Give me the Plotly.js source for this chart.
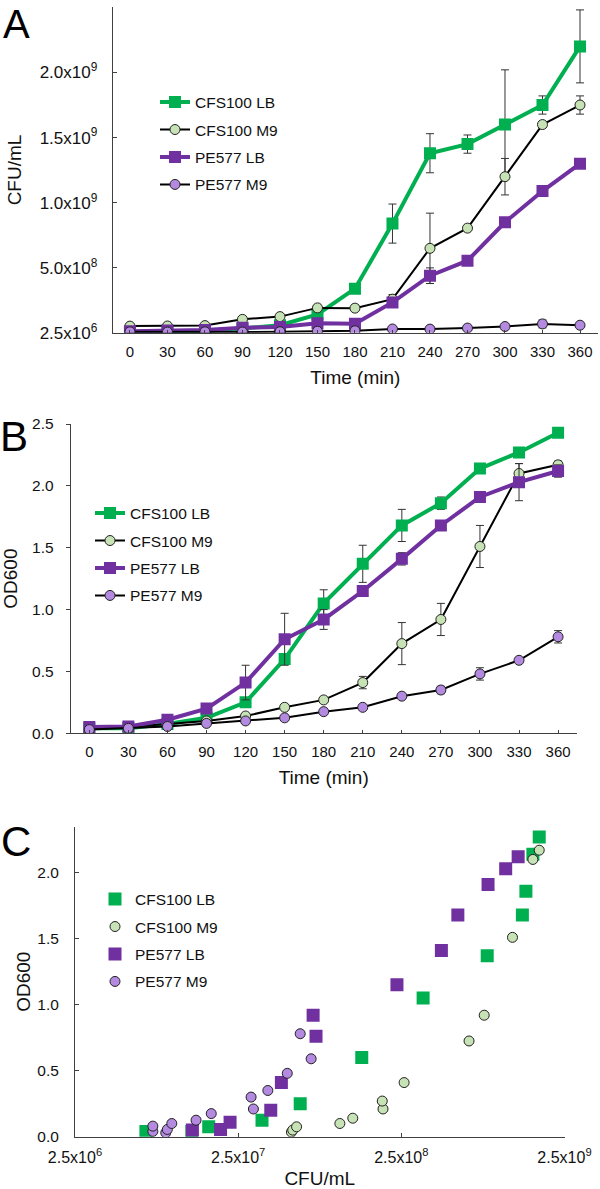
<!DOCTYPE html>
<html>
<head>
<meta charset="utf-8">
<script src="https://cdn.plot.ly/plotly-3.0.1.min.js"></script>
<style>
html,body{margin:0;padding:0;background:#fff;}
#chart{width:600px;height:1189px;}
</style>
</head>
<body>
<div id="chart"></div>
<script>
// ---- data ----
const times = [0, 30, 60, 90, 120, 150, 180, 210, 240, 270, 300, 330, 360];
const seriesNames = ["CFS100 LB", "CFS100 M9", "PE577 LB", "PE577 M9"];

// CFU/mL (panel A; x of panel C)
const cfuCfsLB = [6.8e6, 1.3e7, 1.65e7, 3.5e7, 6.0e7, 1.43e8, 3.4e8, 8.4e8, 1.38e9, 1.45e9, 1.60e9, 1.75e9, 2.20e9];
const cfuCfsM9 = [5.3e7, 5.4e7, 5.7e7, 1.05e8, 1.26e8, 1.93e8, 1.91e8, 2.6e8, 6.5e8, 8.05e8, 1.20e9, 1.60e9, 1.75e9];
const cfuPeLB  = [1.31e7, 1.95e7, 2.23e7, 3.96e7, 4.6e7, 7.5e7, 7.2e7, 2.35e8, 4.4e8, 5.55e8, 8.5e8, 1.09e9, 1.30e9];
const cfuPeM9  = [9.0e6, 7.5e6, 9.2e6, 7.5e6, 9.8e6, 1.38e7, 1.71e7, 3.1e7, 3.0e7, 3.8e7, 5.0e7, 7.0e7, 6.0e7];
const cfuErrCfsLB = [0, 0, 0, 0, 0, 0, 0, 1.5e8, 1.5e8, 7e7, 4.2e8, 7e7, 2.8e8];
const cfuErrCfsM9 = [0, 0, 0, 0, 0, 0, 2.5e7, 3.5e7, 2.7e8, 0, 1.4e8, 0, 7e7];
const cfuErrPeLB  = [0, 0, 0, 0, 0, 0, 0, 0, 6e7, 0, 0, 0, 0];
const cfuErrPeM9  = [0, 0, 0, 0, 0, 0, 0, 0, 0, 0, 2e7, 3e7, 0];

// OD600 (panel B; y of panel C)
const odCfsLB = [0.04, 0.04, 0.075, 0.125, 0.25, 0.60, 1.05, 1.37, 1.68, 1.86, 2.14, 2.27, 2.43];
const odCfsM9 = [0.035, 0.05, 0.075, 0.10, 0.14, 0.21, 0.27, 0.41, 0.725, 0.92, 1.51, 2.10, 2.17];
const odPeLB  = [0.05, 0.055, 0.11, 0.20, 0.41, 0.76, 0.92, 1.15, 1.41, 1.68, 1.91, 2.03, 2.12];
const odPeM9  = [0.03, 0.04, 0.055, 0.08, 0.10, 0.125, 0.175, 0.21, 0.30, 0.35, 0.48, 0.59, 0.78];
const odErrCfsLB = [0, 0, 0, 0, 0, 0, 0.11, 0.15, 0.13, 0.05, 0.03, 0, 0];
const odErrCfsM9 = [0, 0, 0, 0, 0, 0, 0, 0.05, 0.17, 0.13, 0.17, 0.08, 0.03];
const odErrPeLB  = [0, 0, 0, 0, 0.14, 0.21, 0.08, 0, 0.05, 0, 0, 0.15, 0.05];
const odErrPeM9  = [0, 0, 0, 0, 0, 0, 0, 0, 0, 0.03, 0.05, 0, 0.05];

// tick labels
const cfuTickVals = [2.5e6, 5e8, 1e9, 1.5e9, 2e9, 2.5e9];
const cfuTickText = ["2.5x10<sup>6</sup>", "5.0x10<sup>8</sup>", "1.0x10<sup>9</sup>", "1.5x10<sup>9</sup>", "2.0x10<sup>9</sup>", "2.5x10<sup>9</sup>"];
const logTickVals = [2.5e6, 2.5e7, 2.5e8, 2.5e9];
const logTickText = ["2.5x10<sup>6</sup>", "2.5x10<sup>7</sup>", "2.5x10<sup>8</sup>", "2.5x10<sup>9</sup>"];
const odTickVals = [0, 0.5, 1.0, 1.5, 2.0, 2.5];
const odTickValsC = [0, 0.5, 1.0, 1.5, 2.0];

// ---- styles ----
const GREEN = "#00b050", PURPLE = "#7030a0", LGREEN = "#c7e2b5", LPURPLE = "#b48ae0";
const FONT = "Liberation Sans, Arial, sans-serif";
const errStyle = (arr) => ({type: "data", array: arr, visible: true, color: "#333", thickness: 1, width: 4});

const cfuSets = [cfuCfsLB, cfuCfsM9, cfuPeLB, cfuPeM9];
const cfuErrs = [cfuErrCfsLB, cfuErrCfsM9, cfuErrPeLB, cfuErrPeM9];
const odSets = [odCfsLB, odCfsM9, odPeLB, odPeM9];
const odErrs = [odErrCfsLB, odErrCfsM9, odErrPeLB, odErrPeM9];

const lineStyles = [
  {line: {color: GREEN, width: 4}, marker: {symbol: "square", size: 12, color: GREEN, line: {width: 0}}},
  {line: {color: "#000", width: 2}, marker: {symbol: "circle", size: 10, color: LGREEN, line: {color: "#222", width: 1}}},
  {line: {color: PURPLE, width: 4}, marker: {symbol: "square", size: 12, color: PURPLE, line: {width: 0}}},
  {line: {color: "#000", width: 2}, marker: {symbol: "circle", size: 10, color: LPURPLE, line: {color: "#222", width: 1}}}
];
const scatterMarkers = [
  {symbol: "square", size: 13, color: GREEN, line: {width: 0}},
  {symbol: "circle", size: 10, color: LGREEN, line: {color: "#222", width: 1}},
  {symbol: "square", size: 13, color: PURPLE, line: {width: 0}},
  {symbol: "circle", size: 10, color: LPURPLE, line: {color: "#222", width: 1}}
];

const traces = [];
for (let i = 0; i < 4; i++) {
  traces.push({type: "scatter", mode: "lines+markers", x: times, y: cfuSets[i], name: seriesNames[i],
    xaxis: "x", yaxis: "y", legend: "legend", legendgroup: "a" + i,
    line: lineStyles[i].line, marker: lineStyles[i].marker, error_y: errStyle(cfuErrs[i])});
}
for (let i = 0; i < 4; i++) {
  traces.push({type: "scatter", mode: "lines+markers", x: times, y: odSets[i], name: seriesNames[i],
    xaxis: "x2", yaxis: "y2", legend: "legend2", legendgroup: "b" + i,
    line: lineStyles[i].line, marker: lineStyles[i].marker, error_y: errStyle(odErrs[i])});
}
for (let i = 0; i < 4; i++) {
  traces.push({type: "scatter", mode: "markers", x: cfuSets[i], y: odSets[i], name: seriesNames[i],
    xaxis: "x3", yaxis: "y3", legend: "legend3", legendgroup: "c" + i, marker: scatterMarkers[i]});
}

const W = 600, H = 1189;
const xd = (a, b) => [a / W, b / W];
const yd = (top, bottom) => [1 - bottom / H, 1 - top / H];

const axisBase = {
  showline: true, linecolor: "#404040", linewidth: 1, showgrid: false, zeroline: false,
  tickcolor: "#404040", tickwidth: 1, tickfont: {family: FONT, size: 15, color: "#111"}, fixedrange: true
};
const titleFont = {family: FONT, size: 19, color: "#111"};
const legendBase = {
  bgcolor: "rgba(0,0,0,0)", borderwidth: 0, font: {family: FONT, size: 15.5, color: "#111"},
  tracegroupgap: 4.3, xanchor: "left", yanchor: "top", xref: "paper", yref: "paper", itemclick: false
};

const layout = {
  width: W, height: H, margin: {l: 0, r: 0, t: 0, b: 0},
  paper_bgcolor: "#fff", plot_bgcolor: "rgba(0,0,0,0)", font: {family: FONT, color: "#111"}, showlegend: true,
  xaxis: Object.assign({}, axisBase, {domain: xd(112.7, 598), range: [-13.8, 374.4], anchor: "y",
    tickvals: times, ticks: "inside", ticklen: 3, ticklabelstandoff: 5,
    title: {text: "Time (min)", font: titleFont, standoff: 11}}),
  yaxis: Object.assign({}, axisBase, {domain: yd(7.3, 332.7), range: [2.5e6, 2.5e9], anchor: "x",
    tickvals: cfuTickVals, ticktext: cfuTickText, ticks: "inside", ticklen: 4, ticklabelstandoff: 11,
    tickfont: {family: FONT, size: 17, color: "#111"},
    title: {text: "CFU/mL", font: titleFont, standoff: 12}}),
  xaxis2: Object.assign({}, axisBase, {domain: xd(70.7, 576.7), range: [-14.3, 374.3], anchor: "y2",
    tickvals: times, ticks: "inside", ticklen: 3, ticklabelstandoff: 5,
    title: {text: "Time (min)", font: titleFont, standoff: 11}}),
  yaxis2: Object.assign({}, axisBase, {domain: yd(424, 733.3), range: [0, 2.5], anchor: "x2",
    tickvals: odTickVals, tickformat: ".1f", ticks: "outside", ticklen: 4, ticklabelstandoff: 9,
    tickfont: {family: FONT, size: 15.5, color: "#111"},
    title: {text: "OD600", font: titleFont, standoff: 13}}),
  xaxis3: Object.assign({}, axisBase, {type: "log", domain: xd(75, 564.5), range: [Math.log10(2.5e6), Math.log10(2.5e9)], anchor: "y3",
    tickvals: logTickVals, ticktext: logTickText, ticks: "inside", ticklen: 4, ticklabelstandoff: 6,
    tickfont: {family: FONT, size: 16, color: "#111"},
    title: {text: "CFU/mL", font: titleFont, standoff: 8}}),
  yaxis3: Object.assign({}, axisBase, {domain: yd(826.7, 1136.7), range: [0, 2.348], anchor: "x3",
    tickvals: odTickValsC, tickformat: ".1f", ticks: "inside", ticklen: 4, ticklabelstandoff: 12,
    tickfont: {family: FONT, size: 15.5, color: "#111"},
    title: {text: "OD600", font: titleFont, standoff: 1}}),
  legend: Object.assign({}, legendBase, {x: 155 / W, y: 1 - 85.5 / H}),
  legend2: Object.assign({}, legendBase, {x: 90 / W, y: 1 - 496.5 / H}),
  legend3: Object.assign({}, legendBase, {x: 95 / W, y: 1 - 882.5 / H}),
  annotations: [
    {text: "A", x: 16 / W, y: 1, yanchor: "top", font: {family: FONT, size: 40, color: "#000"}},
    {text: "B", x: 14 / W, y: 1 - 436 / H},
    {text: "C", x: 16 / W, y: 1 - 842 / H}
  ].map(a => Object.assign({xref: "paper", yref: "paper", showarrow: false, xanchor: "center", yanchor: "middle",
    font: {family: FONT, size: 42, color: "#000"}}, a))
};

Plotly.newPlot("chart", traces, layout, {staticPlot: true, displayModeBar: false});
</script>
</body>
</html>
